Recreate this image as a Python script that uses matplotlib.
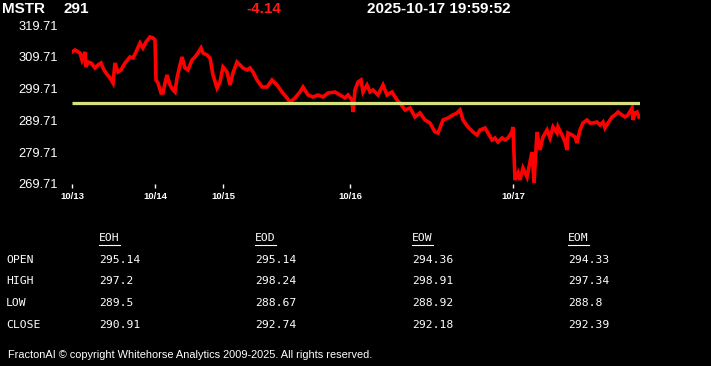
import matplotlib
matplotlib.use("Agg")
import matplotlib.pyplot as plt
from matplotlib.lines import Line2D

# ---------------- data ----------------
symbol = "MSTR"
last_price = "291"
change = "-4.14"
timestamp = "2025-10-17 19:59:52"

bars = [0, 3, 8, 10, 13, 14, 16, 19, 23, 26, 29, 31, 34, 38, 41, 43, 46, 49, 53, 58,
        61, 64, 68, 71, 74, 78, 81, 83, 84, 86, 89, 91, 93, 95, 98, 101, 103, 105, 108, 110,
        113, 116, 120, 123, 126, 129, 131, 135, 138, 141, 145, 148, 151, 155, 158, 161, 165, 168, 171, 175,
        178, 181, 185, 190, 195, 200, 205, 210, 215, 218, 223, 228, 231, 236, 241, 246, 251, 256, 263, 268,
        273, 276, 280, 281, 283, 286, 289, 291, 295, 298, 301, 306, 311, 315, 320, 325, 328, 333, 338, 343,
        348, 353, 358, 363, 366, 371, 376, 381, 385, 388, 391, 396, 401, 405, 408, 413, 416, 420, 423, 426,
        430, 433, 436, 440, 441, 443, 446, 448, 451, 455, 458, 460, 462, 465, 468, 471, 475, 478, 481, 485,
        486, 490, 493, 495, 496, 500, 503, 505, 508, 511, 515, 518, 521, 525, 528, 531, 533, 536, 540, 543,
        546, 550, 553, 556, 560, 561, 563, 565, 567]
prices = [311.22, 311.85, 310.91, 308.71, 311.22, 306.51, 308.08, 307.76, 306.19, 307.14, 307.76, 306.19, 304.62, 303.05, 301.47, 307.76, 304.93, 305.56, 307.76, 309.65,
          309.34, 311.22, 314.05, 312.48, 314.37, 315.94, 315.63, 315.00, 302.42, 301.47, 298.33, 298.33, 301.47, 303.99, 300.85, 299.27, 298.64, 303.05, 307.14, 309.65,
          306.19, 305.56, 308.71, 309.65, 310.91, 312.48, 310.91, 310.28, 309.34, 303.99, 299.90, 301.79, 306.51, 304.93, 300.85, 304.62, 308.08, 307.14, 306.19, 305.56,
          306.19, 304.93, 302.42, 300.22, 300.22, 302.42, 300.85, 298.64, 296.76, 295.50, 296.76, 298.64, 300.22, 297.70, 297.07, 297.70, 297.07, 298.33, 298.64, 297.70,
          296.76, 297.70, 296.13, 292.35, 299.27, 301.79, 302.42, 298.64, 300.85, 298.64, 299.27, 297.70, 300.85, 297.70, 298.64, 296.13, 295.18, 292.98, 293.61, 290.78,
          292.04, 289.84, 288.89, 286.06, 285.75, 289.84, 290.47, 291.41, 292.04, 292.98, 289.84, 287.64, 286.06, 285.12, 286.69, 287.32, 285.75, 283.55, 284.18, 282.92,
          284.18, 283.55, 284.18, 286.06, 287.64, 270.97, 273.17, 270.97, 274.74, 271.91, 276.63, 279.77, 270.02, 286.06, 280.40, 284.49, 286.69, 284.18, 287.64, 285.75,
          287.64, 285.12, 282.92, 280.40, 285.75, 285.12, 284.49, 282.60, 286.69, 288.89, 289.84, 288.89, 288.89, 289.21, 288.27, 289.21, 287.32, 288.89, 290.78, 291.41,
          292.35, 291.41, 290.78, 291.41, 293.61, 289.84, 292.04, 292.35, 290.78]

reference_level = 295.14
y_ticks = [269.71, 279.71, 289.71, 299.71, 309.71, 319.71]
x_tick_pos = [0, 83, 151, 278, 441]
x_tick_labels = ["10/13", "10/14", "10/15", "10/16", "10/17"]

table_columns = ["EOH", "EOD", "EOW", "EOM"]
table_rows = ["OPEN", "HIGH", "LOW", "CLOSE"]
table_values = [
    ["295.14", "295.14", "294.36", "294.33"],
    ["297.2", "298.24", "298.91", "297.34"],
    ["289.5", "288.67", "288.92", "288.8"],
    ["290.91", "292.74", "292.18", "292.39"],
]
footer = "FractonAI \u00a9 copyright Whitehorse Analytics 2009-2025. All rights reserved."

# ---------------- figure ----------------
W, H = 711, 366
fig = plt.figure(figsize=(W / 100, H / 100), dpi=100, facecolor="black")

def fx(px):
    return px / W

def fy(py):
    return 1 - py / H

ax = fig.add_axes([fx(72), fy(184), fx(640 - 72), (184 - 25) / H])
ax.set_facecolor("black")
ax.plot(bars, prices, color="#ff0000", lw=2.6, solid_joinstyle="miter")
ax.plot([0, 568], [reference_level, reference_level], color="#d8e27c", lw=2.3, solid_capstyle="butt")
ax.set_xlim(0, 568)
ax.set_ylim(y_ticks[0], y_ticks[-1])
for s in ax.spines.values():
    s.set_visible(False)
ax.set_yticks(y_ticks)
ax.set_yticklabels([f"{v:.2f}" for v in y_ticks], fontsize=9.3, color="white",
                   family=["Liberation Sans", "DejaVu Sans"])
ax.tick_params(axis="y", length=0, pad=10)
ax.set_xticks(x_tick_pos)
ax.set_xticklabels(x_tick_labels, fontsize=6.8, color="white", fontweight="bold",
                   family=["Liberation Sans", "DejaVu Sans"])
ax.tick_params(axis="x", length=3, width=1, color="white", direction="out", pad=3)

# ---------------- header ----------------
hfont = dict(family=["Liberation Sans", "DejaVu Sans"], fontweight="bold", fontsize=11, va="center")
fig.text(fx(2), fy(9), symbol, color="white", **hfont)
fig.text(fx(63), fy(9), last_price, color="white", **hfont)
fig.text(fx(246), fy(9), change, color="#ff1a1a", **hfont)
fig.text(fx(367), fy(9), timestamp, color="white", **hfont)

# ---------------- table ----------------
mono = dict(family=["DejaVu Sans Mono"], fontsize=8.2, color="white", va="center")
col_x = [99, 255, 412, 568]
row_y = [260, 281, 303, 325]
for cx, name in zip(col_x, table_columns):
    fig.text(fx(cx), fy(238), name, **mono)
    fig.add_artist(Line2D([fx(cx), fx(cx + 21)], [fy(244.5), fy(244.5)], color="white", lw=0.8,
                          transform=fig.transFigure))
for ry, rname, vals in zip(row_y, table_rows, table_values):
    fig.text(fx(6), fy(ry), rname, **mono)
    for cx, v in zip(col_x, vals):
        fig.text(fx(cx), fy(ry), v, **mono)

fig.text(fx(8), fy(355), footer, color="white", fontsize=7.95, va="center",
         family=["Liberation Sans", "DejaVu Sans"])

fig.savefig("out.png", dpi=100, facecolor="black")
